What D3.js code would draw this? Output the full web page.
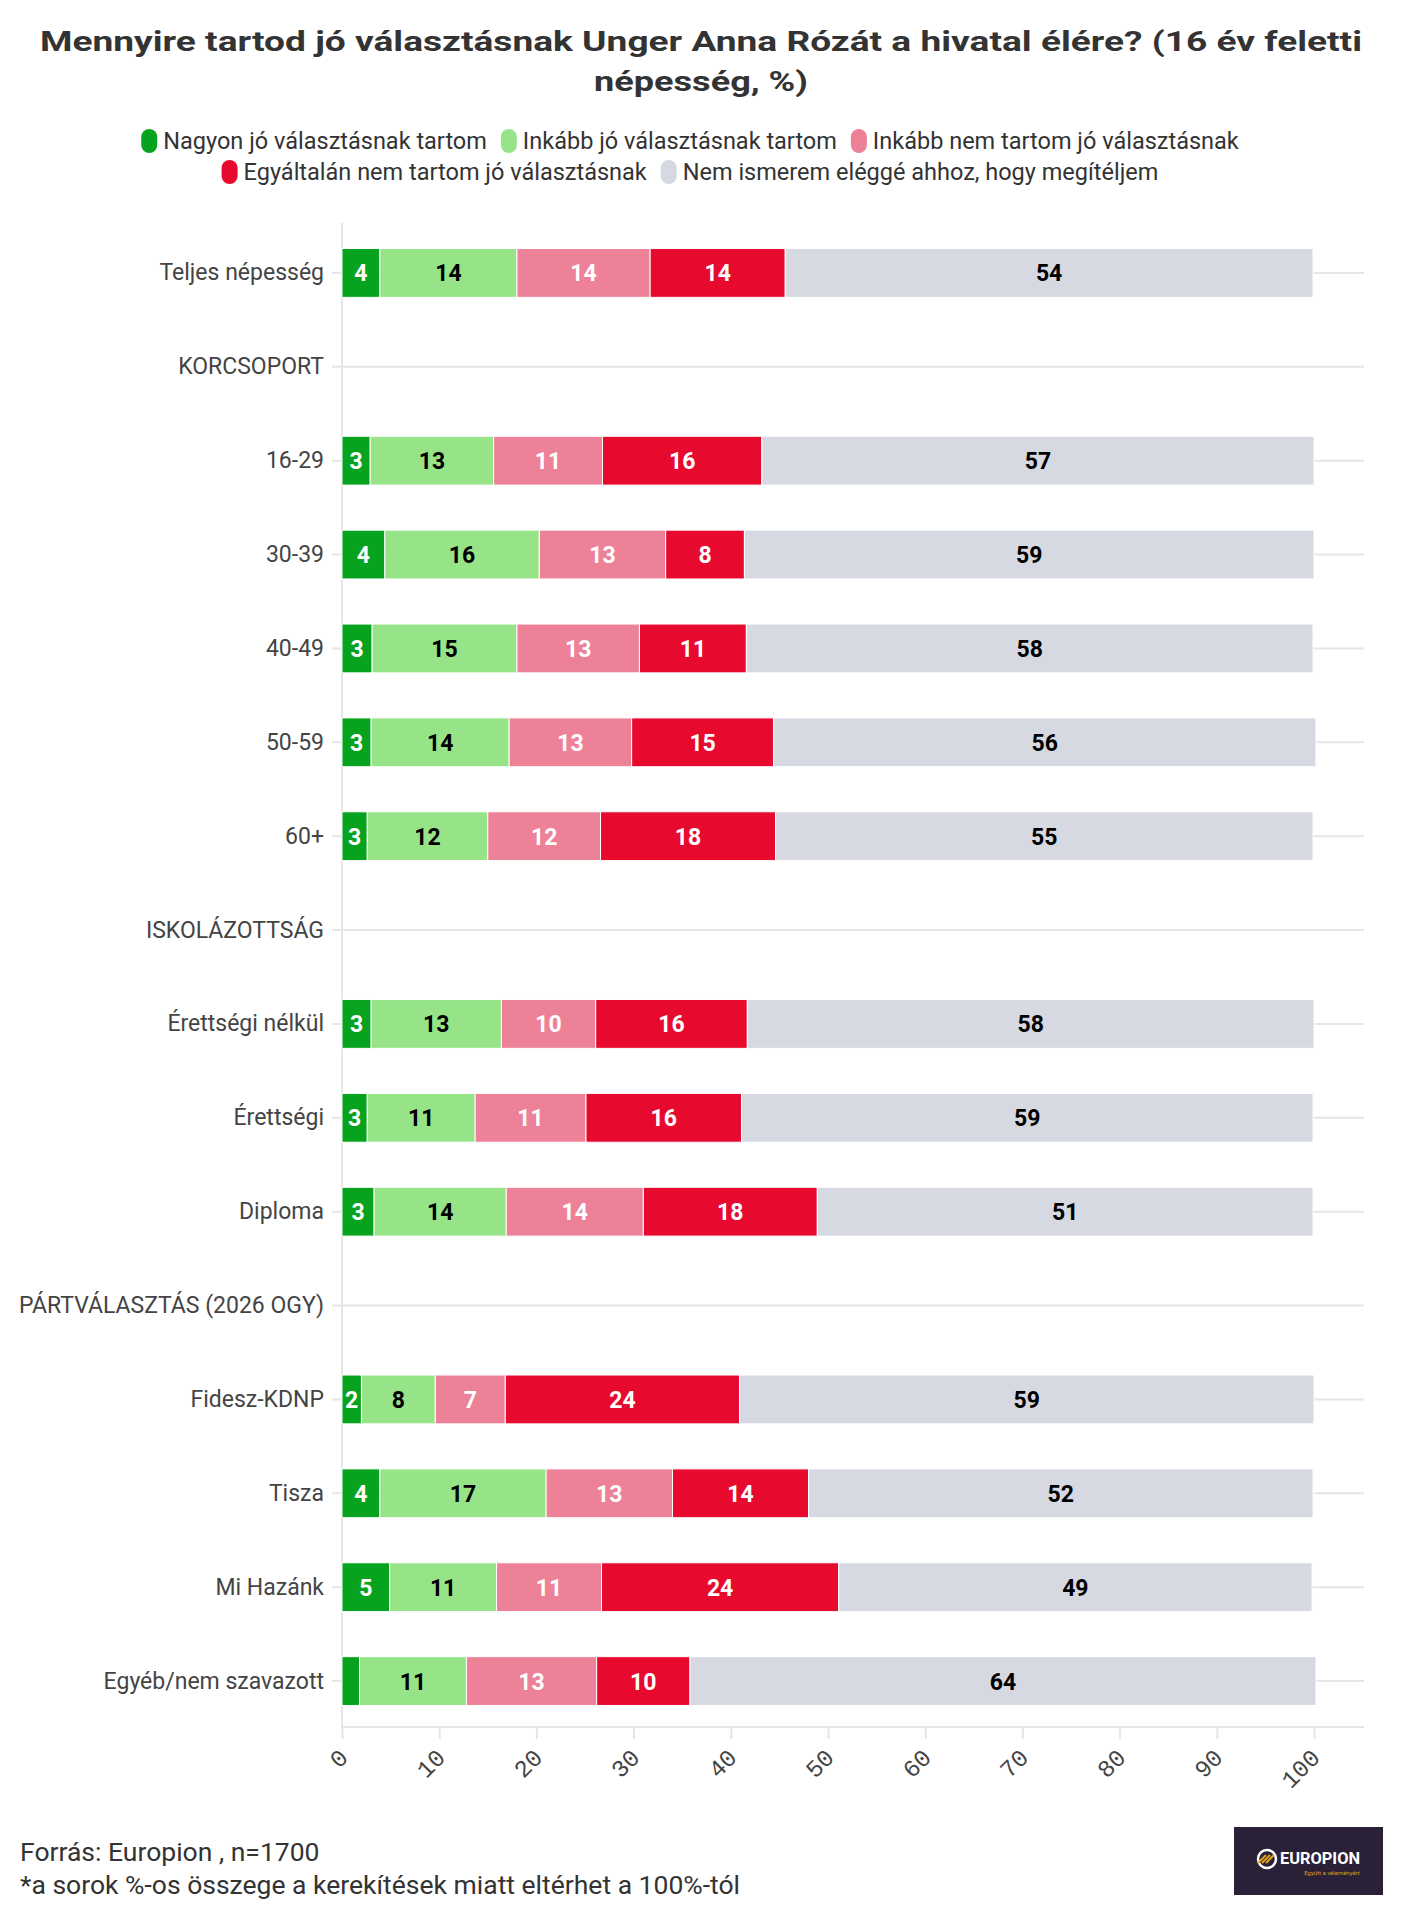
<!DOCTYPE html>
<html>
<head>
<meta charset="utf-8">
<script src="https://cdn.jsdelivr.net/npm/d3@7"></script>
<style>
  body { margin: 0; background: #fff; }
  svg { display: block; font-family: Roboto, "Noto Sans", sans-serif; }
</style>
</head>
<body>
<svg id="chart"></svg>
<script>
// Rows (header rows have no values)
const categories = ["Teljes népesség", "KORCSOPORT", "16-29", "30-39", "40-49", "50-59", "60+",
  "ISKOLÁZOTTSÁG", "Érettségi nélkül", "Érettségi", "Diploma",
  "PÁRTVÁLASZTÁS (2026 OGY)", "Fidesz-KDNP", "Tisza", "Mi Hazánk", "Egyéb/nem szavazott"];

const nagyonJo   = [3.9, null, 2.9, 4.4, 3.1, 3.0, 2.6, null, 3.0, 2.6, 3.3, null, 2.0, 3.9, 4.9, 1.8];
const inkabbJo   = [14.1, null, 12.7, 15.9, 14.9, 14.2, 12.4, null, 13.4, 11.1, 13.6, null, 7.6, 17.1, 11.0, 11.0];
const inkabbNem  = [13.7, null, 11.2, 13.0, 12.6, 12.6, 11.6, null, 9.7, 11.4, 14.1, null, 7.2, 13.0, 10.8, 13.4];
const egyaltalan = [13.9, null, 16.4, 8.1, 11.0, 14.6, 18.0, null, 15.6, 16.0, 17.9, null, 24.1, 14.0, 24.4, 9.6];
const nemIsmerem = [54.3, null, 56.8, 58.6, 58.3, 55.8, 55.3, null, 58.3, 58.8, 51.0, null, 59.1, 51.9, 48.7, 64.4];

const seriesNames = ["Nagyon jó választásnak tartom", "Inkább jó választásnak tartom",
  "Inkább nem tartom jó választásnak", "Egyáltalán nem tartom jó választásnak",
  "Nem ismerem eléggé ahhoz, hogy megítéljem"];
const seriesColors = ["#07a31f", "#97e488", "#ec8198", "#e8092f", "#d6d9e1"];
const labelColors = ["#fff", "#000", "#fff", "#fff", "#000"];
const xTicks = [0, 10, 20, 30, 40, 50, 60, 70, 80, 90, 100];

const series = [nagyonJo, inkabbJo, inkabbNem, egyaltalan, nemIsmerem];

const W = 1401, H = 1920;
const svg = d3.select("#chart").attr("width", W).attr("height", H);

// Title
const title = svg.append("g").attr("fill", "#333").attr("font-weight", "bold")
  .attr("font-size", 27).attr("text-anchor", "middle");
title.append("text").attr("x", 701).attr("y", 51)
  .attr("textLength", 1322).attr("lengthAdjust", "spacingAndGlyphs")
  .text("Mennyire tartod jó választásnak Unger Anna Rózát a hivatal élére? (16 év feletti");
title.append("text").attr("x", 701).attr("y", 91)
  .attr("textLength", 214).attr("lengthAdjust", "spacingAndGlyphs")
  .text("népesség, %)");

// Legend
const legendRows = [[0, 1, 2], [3, 4]];
const legendY = [141, 172];
const legend = svg.append("g").attr("font-size", 23.5).attr("fill", "#333");
legendRows.forEach((row, ri) => {
  const g = legend.append("g");
  let cx = 0;
  row.forEach(i => {
    g.append("rect").attr("x", cx).attr("y", legendY[ri] - 12)
      .attr("width", 16).attr("height", 24).attr("rx", 8).attr("ry", 8)
      .attr("fill", seriesColors[i]);
    const t = g.append("text").attr("x", cx + 22).attr("y", legendY[ri])
      .attr("dominant-baseline", "central").text(seriesNames[i]);
    cx += 22 + t.node().getComputedTextLength() + 14;
  });
  const total = cx - 14;
  g.attr("transform", "translate(" + (690 - total / 2) + ",0)");
});

// Scales
const x = d3.scaleLinear().domain([0, 100]).range([342, 1314]);
const y = d3.scaleBand().domain(categories).range([226, 1728]).paddingInner(0.48).paddingOuter(0.24);
const gridRight = 1364;

// Grid lines at every row
svg.append("g").selectAll("line").data(categories).join("line")
  .attr("x1", 332).attr("x2", gridRight)
  .attr("y1", d => y(d) + y.bandwidth() / 2).attr("y2", d => y(d) + y.bandwidth() / 2)
  .attr("stroke", "#e6e6e6").attr("stroke-width", 2);

// Left axis line
svg.append("line").attr("x1", 342).attr("x2", 342).attr("y1", 223).attr("y2", 1728)
  .attr("stroke", "#e6e6e6").attr("stroke-width", 2);

// Row labels
svg.append("g").attr("font-size", 23).attr("fill", "#444").attr("text-anchor", "end")
  .selectAll("text").data(categories).join("text")
  .attr("x", 324).attr("y", d => y(d) + y.bandwidth() / 2)
  .attr("dominant-baseline", "central")
  .text(d => d);

// Stacked bars
const stackData = categories.map((c, ci) => {
  let cum = 0;
  return series.map((s, si) => {
    const v = s[ci];
    const seg = { cat: c, si: si, v: v, x0: cum, x1: cum + (v || 0) };
    cum += v || 0;
    return seg;
  });
}).flat().filter(d => d.v != null);

const bars = svg.append("g");
bars.selectAll("rect").data(stackData).join("rect")
  .attr("x", d => x(d.x0))
  .attr("width", d => x(d.x1) - x(d.x0))
  .attr("y", d => y(d.cat))
  .attr("height", y.bandwidth())
  .attr("fill", d => seriesColors[d.si])
  .attr("stroke", "#fff").attr("stroke-width", 1);

bars.selectAll("text").data(stackData.filter(d => d.v >= 1.9)).join("text")
  .attr("x", d => x((d.x0 + d.x1) / 2))
  .attr("y", d => y(d.cat) + y.bandwidth() / 2 + 1)
  .attr("text-anchor", "middle").attr("dominant-baseline", "central")
  .attr("font-size", 23).attr("font-weight", "bold")
  .attr("fill", d => labelColors[d.si])
  .text(d => Math.round(d.v));

// Bottom axis
const xAxis = d3.axisBottom(x).tickValues(xTicks).tickSize(12).tickPadding(8);
const ax = svg.append("g").attr("transform", "translate(0,1727)").call(xAxis);
ax.select(".domain").remove();
ax.append("line").attr("x1", 342).attr("x2", gridRight).attr("stroke", "#e6e6e6").attr("stroke-width", 2);
ax.selectAll(".tick line").attr("stroke", "#e6e6e6").attr("stroke-width", 2);
ax.selectAll(".tick text")
  .attr("font-family", "'Liberation Mono', monospace").attr("font-size", 24).attr("fill", "#444")
  .attr("text-anchor", "end").attr("dy", null).attr("y", 0)
  .attr("transform", "translate(7,32) rotate(-45)");

// Footer
const foot = svg.append("g").attr("font-size", 26.5).attr("fill", "#333");
foot.append("text").attr("x", 20).attr("y", 1851).attr("dominant-baseline", "central")
  .text("Forrás: Europion , n=1700");
foot.append("text").attr("x", 20).attr("y", 1884).attr("dominant-baseline", "central")
  .text("*a sorok %-os összege a kerekítések miatt eltérhet a 100%-tól");

// Logo
const logo = svg.append("g");
logo.append("rect").attr("x", 1234).attr("y", 1827).attr("width", 149).attr("height", 68).attr("fill", "#2a2139");
logo.append("circle").attr("cx", 1267).attr("cy", 1859).attr("r", 9)
  .attr("fill", "none").attr("stroke", "#fff").attr("stroke-width", 2.5);
[-4, 0, 4].forEach(d => {
  logo.append("line").attr("x1", 1262 + d).attr("y1", 1863).attr("x2", 1270 + d).attr("y2", 1855)
    .attr("stroke", "#e4a21a").attr("stroke-width", 2);
});
logo.append("text").attr("x", 1280).attr("y", 1858).attr("fill", "#fff")
  .attr("font-size", 16).attr("font-weight", "bold").attr("dominant-baseline", "central")
  .attr("textLength", 80).attr("lengthAdjust", "spacingAndGlyphs").text("EUROPION");
logo.append("text").attr("x", 1332).attr("y", 1872).attr("fill", "#d99b1c")
  .attr("font-size", 6).attr("text-anchor", "middle").attr("dominant-baseline", "central")
  .text("Együtt a véleményért");
</script>
</body>
</html>
